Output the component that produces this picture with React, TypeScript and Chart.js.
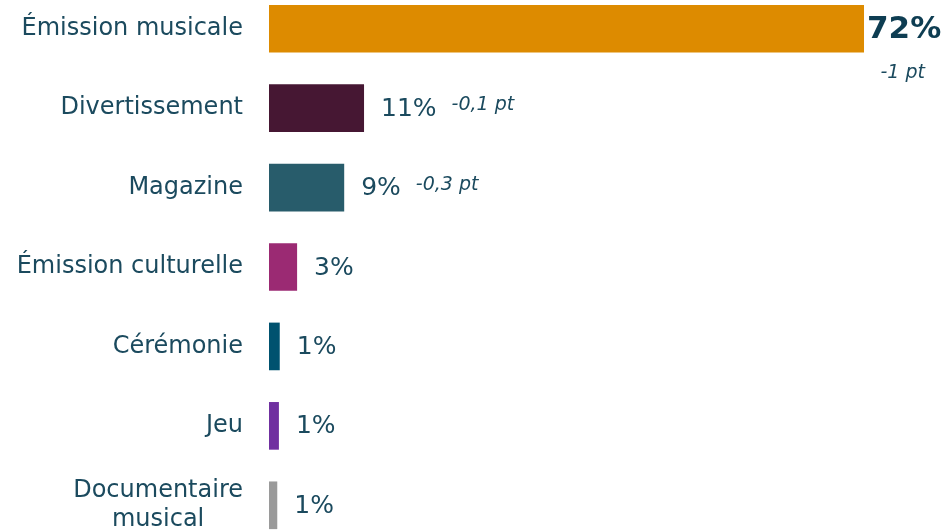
import React, { useEffect, useRef } from 'react';
import { Chart, registerables } from 'chart.js';

Chart.register(...registerables);

const categories = [
  'Émission musicale',
  'Divertissement',
  'Magazine',
  'Émission culturelle',
  'Cérémonie',
  'Jeu',
  'Documentaire\nmusical',
];
const shares = [72, 11.5, 9.1, 3.4, 1.3, 1.2, 1.0];
const shareLabels = ['72%', '11%', '9%', '3%', '1%', '1%', '1%'];
const deltaLabels = ['-1 pt', '-0,1 pt', '-0,3 pt', '', '', '', ''];
const barColors = ['#DD8B00', '#461733', '#285C6B', '#9B2A73', '#00526F', '#7030A0', '#9A9A9A'];

const FONT = '"DejaVu Sans", sans-serif';
const TEXT_COLOR = '#1B4A5E';

const labelPlugin = {
  id: 'customLabels',
  afterDraw(chart: any) {
    const ctx = chart.ctx as CanvasRenderingContext2D;
    const yScale = chart.scales.y;
    const meta = chart.getDatasetMeta(0);
    ctx.save();
    // category labels
    ctx.font = `24px ${FONT}`;
    ctx.fillStyle = TEXT_COLOR;
    ctx.textBaseline = 'middle';
    const right = 243;
    const lineH = 29;
    categories.forEach((c, i) => {
      const y = yScale.getPixelForValue(i);
      const lines = c.split('\n');
      const maxW = Math.max(...lines.map((l) => ctx.measureText(l).width));
      lines.forEach((l, k) => {
        const ly = y + (k - (lines.length - 1) / 2) * lineH;
        if (lines.length > 1) {
          ctx.textAlign = 'center';
          ctx.fillText(l, right - maxW / 2, ly);
        } else {
          ctx.textAlign = 'right';
          ctx.fillText(l, right, ly);
        }
      });
    });
    // value labels
    shareLabels.forEach((s, i) => {
      const bar = meta.data[i];
      const x = bar.x;
      const y = bar.y;
      ctx.textAlign = 'left';
      if (i === 0) {
        ctx.font = `bold 31px ${FONT}`;
        ctx.fillStyle = '#0E3D52';
        ctx.fillText(s, x + 3, y + 1);
        if (deltaLabels[i]) {
          ctx.font = `italic 19px ${FONT}`;
          ctx.fillStyle = TEXT_COLOR;
          ctx.textAlign = 'right';
          ctx.fillText(deltaLabels[i], 925, y + 44);
        }
      } else {
        ctx.font = `25px ${FONT}`;
        ctx.fillStyle = TEXT_COLOR;
        const vx = x + 17;
        ctx.fillText(s, vx, y + 1);
        const w = ctx.measureText(s).width;
        if (deltaLabels[i]) {
          ctx.font = `italic 19px ${FONT}`;
          ctx.fillText(deltaLabels[i], vx + w + 15, y - 3);
        }
      }
    });
    ctx.restore();
  },
};

export default function App() {
  const ref = useRef<HTMLCanvasElement | null>(null);
  useEffect(() => {
    document.body.style.margin = '0';
    if (!ref.current) return;
    const chart = new Chart(ref.current, {
      type: 'bar',
      data: {
        labels: categories,
        datasets: [
          {
            data: shares,
            backgroundColor: barColors,
            borderWidth: 0,
            barPercentage: 0.6,
            categoryPercentage: 1,
          },
        ],
      },
      options: {
        indexAxis: 'y',
        animation: false,
        responsive: false,
        maintainAspectRatio: false,
        layout: { padding: { left: 269, right: 0, top: 0, bottom: 0 } },
        plugins: { legend: { display: false }, tooltip: { enabled: false } },
        scales: {
          x: { display: false, min: 0, max: 81.8 },
          y: { display: false },
        },
      },
      plugins: [labelPlugin],
    });
    return () => chart.destroy();
  }, []);
  return (
    <div style={{ position: 'fixed', left: 0, top: 0, width: 945, height: 531, overflow: 'hidden', background: '#fff' }}>
      <canvas ref={ref} width={945} height={556} style={{ position: 'absolute', left: 0, top: -11, width: 945, height: 556 }} />
    </div>
  );
}
